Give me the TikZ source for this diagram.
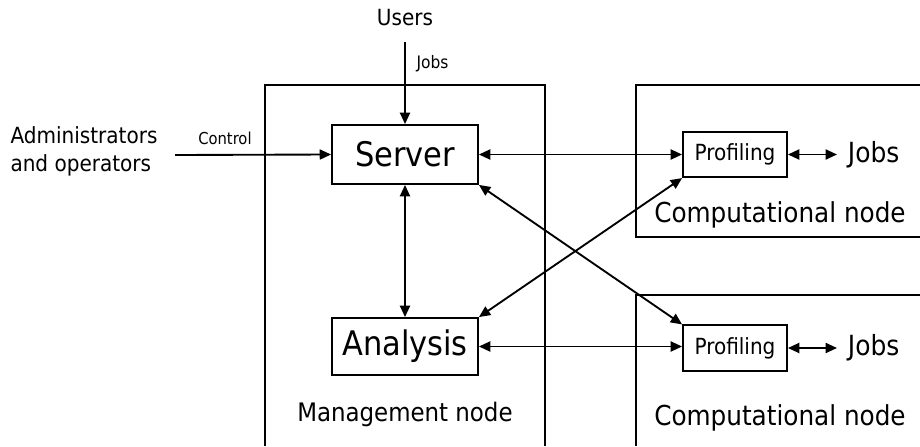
\documentclass[tikz,border=0pt]{standalone}
\usepackage{fontspec}
\setmainfont{DejaVu Sans Condensed}
\usetikzlibrary{arrows.meta}
\begin{document}
\begin{tikzpicture}[x=0.75pt,y=-0.75pt,
  line width=1.4pt,
  box/.style={draw,inner sep=0pt},
  link/.style={{Triangle[length=8.5pt,width=7.5pt]}-{Triangle[length=8.5pt,width=7.5pt]}},
  feed/.style={-{Triangle[length=8.5pt,width=7.5pt]}},
  lbl/.style={inner sep=0pt},
  sink/.style={inner ysep=0pt,inner xsep=7.5pt,font=\fontsize{20.8}{24}\selectfont}]
\useasboundingbox (0,0) rectangle (920,446);

% enclosing machines
\draw (265,446) -- (265,85) -- (545,85) -- (545,446);
\draw (920,85) -- (636,85) -- (636,237) -- (920,237);
\draw (920,295) -- (636,295) -- (636,446);

% components
\node[box,minimum width=109.5pt,minimum height=44.25pt,font=\fontsize{25.4}{28}\selectfont] (server) at (405,154.5) {Server};
\node[box,minimum width=109.5pt,minimum height=42.75pt,font=\fontsize{25.4}{28}\selectfont] (analysis) at (405,346.5) {Analysis};
\node[box,minimum width=78pt,minimum height=34pt,font=\fontsize{16.7}{20}\selectfont] (prof1) at (735,154.5) {Profiling};
\node[box,minimum width=78pt,minimum height=34pt,font=\fontsize{16.7}{20}\selectfont] (prof2) at (735,348) {Profiling};

% outside actors and job sinks
\node[lbl,font=\fontsize{16.7}{20}\selectfont] (users) at (405,18) {Users};
\coordinate (usersout) at (405,42);
\node[lbl,font=\fontsize{16.7}{21}\selectfont,align=left] (admins) at (84,151) {Administrators\\and operators};
\coordinate (adminsout) at (175,155);
\node[sink,anchor=west] (jobs1) at (837,155) {Jobs};
\node[sink,anchor=west] (jobs2) at (837,348) {Jobs};

% machine captions
\node[lbl,font=\fontsize{19.1}{22}\selectfont] (mgmt) at (405,414) {Management node};
\node[lbl,font=\fontsize{20.6}{24}\selectfont] (comp1) at (780,215) {Computational node};
\node[lbl,font=\fontsize{20.6}{24}\selectfont] (comp2) at (780,418) {Computational node};

% connectors
\draw[feed] (usersout) -- node[lbl,right=8pt,pos=0.26,font=\fontsize{12.9}{15}\selectfont] {Jobs} (server.north);
\draw[feed] (adminsout) -- node[lbl,above=7pt,pos=0.32,font=\fontsize{12.3}{14}\selectfont] {Control} (server.west);
\draw[link] (server.east) -- (server.east -| prof1.west);
\draw[link] (server.south) -- (analysis.north);
\draw[link] (server.south east) -- (prof2.north west);
\draw[link] (analysis.north east) -- (prof1.south west);
\draw[link] (analysis.east) -- (analysis.east -| prof2.west);
\draw[link] (prof1.east) -- (prof1.east -| jobs1.west);
\draw[link] (prof2.east) -- (prof2.east -| jobs2.west);
\end{tikzpicture}
\end{document}
